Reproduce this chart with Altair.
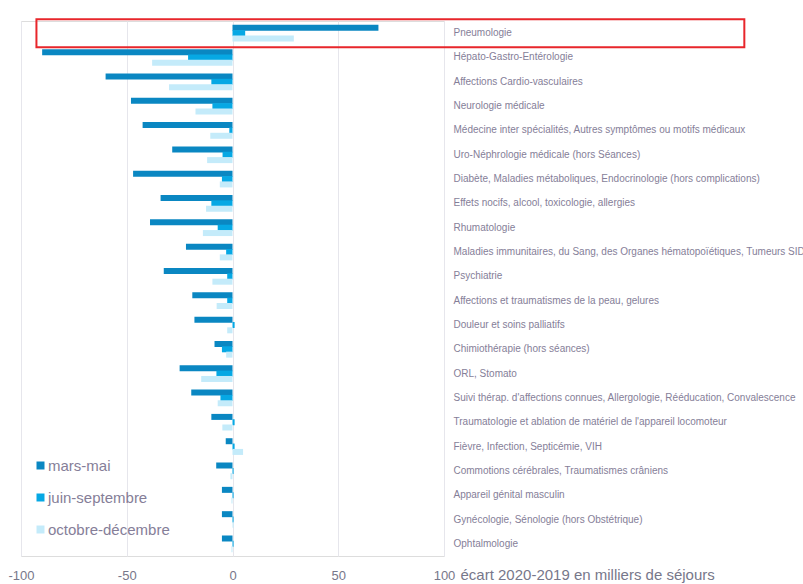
import altair as alt
import pandas as pd

# Écart du nombre de séjours 2020 vs 2019 (milliers), par grande catégorie et période
categories = [
    "Pneumologie",
    "Hépato-Gastro-Entérologie",
    "Affections Cardio-vasculaires",
    "Neurologie médicale",
    "Médecine inter spécialités, Autres symptômes ou motifs médicaux",
    "Uro-Néphrologie médicale (hors Séances)",
    "Diabète, Maladies métaboliques, Endocrinologie (hors complications)",
    "Effets nocifs, alcool, toxicologie, allergies",
    "Rhumatologie",
    "Maladies immunitaires, du Sang, des Organes hématopoïétiques, Tumeurs SIDA",
    "Psychiatrie",
    "Affections et traumatismes de la peau, gelures",
    "Douleur et soins palliatifs",
    "Chimiothérapie (hors séances)",
    "ORL, Stomato",
    "Suivi thérap. d'affections connues, Allergologie, Rééducation, Convalescence",
    "Traumatologie et ablation de matériel de l'appareil locomoteur",
    "Fièvre, Infection, Septicémie, VIH",
    "Commotions cérébrales, Traumatismes crâniens",
    "Appareil génital masculin",
    "Gynécologie, Sénologie (hors Obstétrique)",
    "Ophtalmologie",
]

periods = ["mars-mai", "juin-septembre", "octobre-décembre"]

mars_mai = [69, -90, -60, -48, -42.5, -28.5, -47, -34, -39, -22, -32.5,
            -19, -18, -8.5, -25, -19.5, -10, -3.2, -7.7, -5, -5, -5]
juin_septembre = [6, -21, -10, -9.5, -1.5, -4.7, -5, -10, -7, -3, -2.5,
                  -2.5, 1, -5, -7.6, -5.7, 1, 1, 0.5, 0.5, 0.5, 0.5]
octobre_decembre = [29, -38, -30, -17.5, -10.5, -12, -6, -12.5, -14, -6, -9.5,
                    -7.5, -2.5, -3, -14.8, -7, -4.8, 5, -1, -0.5, 0.5, -0.5]

x_ticks = [-100, -50, 0, 50, 100]
colors = ["#0a87c2", "#06a8e4", "#c4ebfa"]

rows = []
for period, values in zip(periods, [mars_mai, juin_septembre, octobre_decembre]):
    for cat, v in zip(categories, values):
        rows.append({"categorie": cat, "periode": period, "ecart": v})
df = pd.DataFrame(rows)

FONT = "Liberation Sans, Arial, sans-serif"
TEXT = "#857e98"
AXIS_TEXT = "#77778a"

y_enc = alt.Y(
    "categorie:N",
    sort=categories,
    scale=alt.Scale(paddingInner=0.34, paddingOuter=0.17),
    axis=alt.Axis(
        orient="right", title=None, domain=False, ticks=False, grid=False,
        labelAlign="left", labelPadding=9, labelFontSize=10,
        labelColor=TEXT, labelFont=FONT, labelLimit=600,
    ),
)

bars = alt.Chart(df).mark_bar(size=6).encode(
    x=alt.X(
        "ecart:Q",
        scale=alt.Scale(domain=[-100, 100], nice=False),
        axis=alt.Axis(
            values=x_ticks, labelExpr="'' + datum.value", labelFlush=False,
            title="écart 2020-2019 en milliers de séjours",
            domain=False, ticks=False, grid=True, gridColor="#e6e6ec",
            labelPadding=13, labelFontSize=13, labelColor=AXIS_TEXT, labelFont=FONT,
            titleFont=FONT, titleFontSize=15, titleFontWeight="normal",
            titleColor=AXIS_TEXT, titleAlign="left", titleAnchor="start",
            titleX=439, titleY=23, titleBaseline="alphabetic",
        ),
    ),
    y=y_enc,
    yOffset=alt.YOffset(
        "periode:N", sort=periods,
        scale=alt.Scale(paddingInner=0, paddingOuter=0),
    ),
    color=alt.Color(
        "periode:N", sort=periods,
        scale=alt.Scale(domain=periods, range=colors),
        legend=alt.Legend(
            title=None, orient="none", legendX=12, legendY=437,
            symbolType="square", symbolSize=64, symbolStrokeWidth=0,
            labelFontSize=15, labelColor=TEXT, labelFont=FONT,
            rowPadding=16, labelOffset=0,
        ),
    ),
)

# Encadré rouge mettant en avant la Pneumologie
highlight = alt.Chart(pd.DataFrame({"categorie": ["Pneumologie"]})).mark_bar(
    size=28, fillOpacity=0, stroke="#e8262b", strokeWidth=2, clip=False
).encode(
    x=alt.datum(-92.7),
    x2=alt.datum(242),
    y=alt.Y("categorie:N", sort=categories),
)

chart = alt.layer(bars, highlight).properties(
    width=423,
    height=535,
    padding={"left": 21, "top": 21, "right": 359, "bottom": 28},
    autosize=alt.AutoSizeParams(type="none"),
).configure_view(stroke=None).configure(background="white")

chart.save("out.html", embed_options={"renderer": "svg", "actions": False})
